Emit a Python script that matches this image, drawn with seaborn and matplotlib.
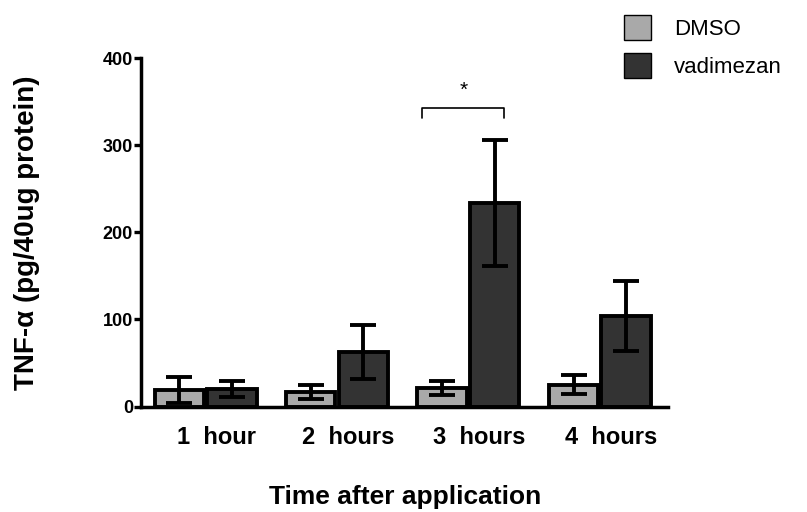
import numpy as np
import pandas as pd
import matplotlib
matplotlib.use("Agg")
import matplotlib.pyplot as plt
from matplotlib.patches import Patch
from matplotlib.transforms import ScaledTranslation
import seaborn as sns

# ---- data ----
times = ["1  hour", "2  hours", "3  hours", "4  hours"]
groups = ["DMSO", "vadimezan"]
dmso_mean = [19, 17, 21, 25]
dmso_err = [15, 8, 8, 11]
vad_mean = [20, 63, 234, 104]
vad_err = [9, 31, 72, 40]
colors = ["#a9a9a9", "#333333"]

df = pd.DataFrame({
    "time": times * 2,
    "group": [groups[0]] * 4 + [groups[1]] * 4,
    "value": dmso_mean + vad_mean,
})
errs = {groups[0]: dmso_err, groups[1]: vad_err}

sns.set_theme(style="ticks")
plt.rcParams["font.family"] = ["Liberation Sans", "DejaVu Sans"]
plt.rcParams["text.color"] = "black"
plt.rcParams["axes.labelcolor"] = "black"
plt.rcParams["xtick.color"] = "black"
plt.rcParams["ytick.color"] = "black"

fig = plt.figure(figsize=(8.07, 5.12), dpi=100)
ax = fig.add_axes([0.175, 0.206, 0.653, 0.68])

sns.barplot(data=df, x="time", y="value", hue="group", palette=colors,
            edgecolor="black", linewidth=2.8, width=0.8, gap=0.06,
            errorbar=None, ax=ax, legend=False, zorder=2)

for cont, g in zip(ax.containers, groups):
    for bar, e in zip(cont.patches, errs[g]):
        xc = bar.get_x() + bar.get_width() / 2
        ax.errorbar(xc, bar.get_height(), yerr=e, fmt="none", ecolor="black",
                    elinewidth=2.8, capsize=9.5, capthick=2.8, zorder=3)

ax.set_xlim(-0.49, 3.52)
ax.set_ylim(0, 400)
ax.set_yticks([0, 100, 200, 300, 400])
ax.tick_params(axis="y", length=5, width=2.4, labelsize=13, pad=1)
ax.tick_params(axis="x", length=0, labelsize=17, pad=14)
for lab in ax.get_yticklabels():
    lab.set_fontweight("bold")
for lab in ax.get_xticklabels():
    lab.set_fontweight("bold")
    lab.set_transform(lab.get_transform() + ScaledTranslation(0.11, 0, fig.dpi_scale_trans))
sns.despine(ax=ax)
for s in ["left", "bottom"]:
    ax.spines[s].set_linewidth(2.5)
    ax.spines[s].set_color("black")

ax.set_xlabel("Time after application", fontsize=19, fontweight="bold", labelpad=26)
ax.set_ylabel("TNF-\u03b1 (pg/40ug protein)", fontsize=20, fontweight="bold", labelpad=45)

# significance bracket
ax.plot([1.65, 1.65, 2.27, 2.27], [331, 343, 343, 331], color="black", lw=1.2, clip_on=False)
ax.text(1.96, 352, "*", ha="center", va="bottom", fontsize=15)

handles = [Patch(facecolor=c, edgecolor="black", linewidth=1.0) for c in colors]
fig.legend(handles, groups, loc="upper left", bbox_to_anchor=(0.748, 1.01),
           frameon=False, fontsize=16, handlelength=1.25, handleheight=1.35,
           labelspacing=0.6, handletextpad=1.0)

fig.savefig("out.png", dpi=100)
